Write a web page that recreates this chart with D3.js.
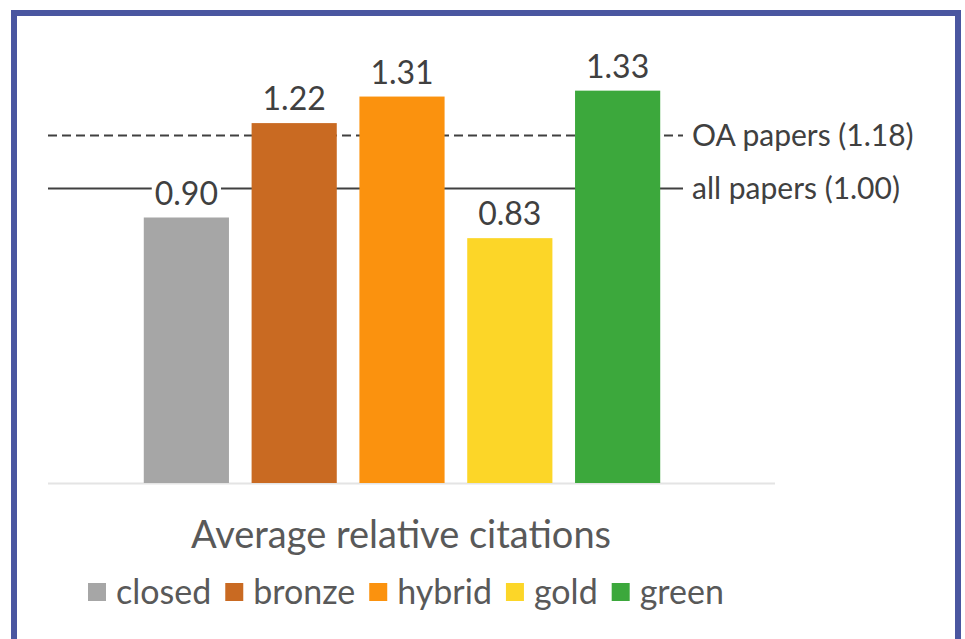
<!DOCTYPE html>
<html>
<head>
<meta charset="utf-8">
<script src="https://cdn.jsdelivr.net/npm/d3@7"></script>
<style>
  html, body { margin: 0; padding: 0; background: #fff; }
  svg { display: block; }
  text { font-family: Lato, "Open Sans", sans-serif; }
</style>
</head>
<body>
<script>
// Average relative citations by access type
const categories = ["closed", "bronze", "hybrid", "gold", "green"];
const values = [0.90, 1.22, 1.31, 0.83, 1.33];
const colors = ["#a6a6a6", "#c96a22", "#fb920e", "#fcd628", "#3ca83c"];
const refLines = [
  { label: "OA papers (1.18)", value: 1.18, dashed: true },
  { label: "all papers (1.00)", value: 1.00, dashed: false }
];
const title = "Average relative citations";

const W = 965, H = 639;
const svg = d3.select("body").append("svg").attr("width", W).attr("height", H);

// frame
svg.append("path")
  .attr("d", `M14,${H} V13 H958 V${H}`)
  .attr("fill", "none").attr("stroke", "#4a56a0").attr("stroke-width", 6);

const baseY = 483;
const y = d3.scaleLinear().domain([0, 1]).range([baseY, baseY - 295]);
const x = d3.scaleBand().domain(categories).range([133, 671]).paddingInner(0.21).paddingOuter(0.1);

// baseline
svg.append("line")
  .attr("x1", 48).attr("x2", 775).attr("y1", baseY + 0.5).attr("y2", baseY + 0.5)
  .attr("stroke", "#e4e4e4").attr("stroke-width", 2);

// reference lines
const refG = svg.append("g");
refLines.forEach(r => {
  const yy = Math.round(y(r.value)) + 0.5;
  refG.append("line")
    .attr("x1", 48).attr("x2", 683).attr("y1", yy).attr("y2", yy)
    .attr("stroke", "#404040").attr("stroke-width", 1.8)
    .attr("stroke-dasharray", r.dashed ? "9,5" : null);
  refG.append("text")
    .attr("x", 692).attr("y", yy).attr("dy", "0.35em")
    .attr("font-size", 30).attr("fill", "#404040")
    .text(r.label);
});

// bars
svg.append("g").selectAll("rect").data(categories).join("rect")
  .attr("x", d => x(d))
  .attr("width", x.bandwidth())
  .attr("y", (d, i) => y(values[i]))
  .attr("height", (d, i) => baseY - y(values[i]))
  .attr("fill", (d, i) => colors[i]);

// value labels (white halo breaks the reference line behind them)
const lbl = svg.append("g").selectAll("g").data(categories).join("g");
lbl.each(function(d, i) {
  const g = d3.select(this);
  const cx = x(d) + x.bandwidth() / 2;
  const ty = y(values[i]) - 13;
  const t = g.append("text")
    .attr("x", cx).attr("y", ty).attr("text-anchor", "middle")
    .attr("font-size", 32).attr("fill", "#404040")
    .text(values[i].toFixed(2));
  const bb = t.node().getBBox();
  g.insert("rect", "text")
    .attr("x", bb.x - 3).attr("y", bb.y + 4).attr("width", bb.width + 6).attr("height", bb.height - 8)
    .attr("fill", "#fff");
});

// title
svg.append("text")
  .attr("x", 401).attr("y", 548).attr("text-anchor", "middle")
  .attr("font-size", 38).attr("fill", "#595959")
  .text(title);

// legend: swatch + label, laid out left to right
const leg = svg.append("g").attr("transform", "translate(88,583)");
let cursor = 0;
categories.forEach((c, i) => {
  const item = leg.append("g").attr("transform", `translate(${cursor},0)`);
  item.append("rect").attr("width", 18).attr("height", 18).attr("fill", colors[i]);
  const t = item.append("text").attr("x", 28).attr("y", 9).attr("dy", "0.35em")
    .attr("font-size", 34).attr("fill", "#595959").text(c);
  cursor += 28 + t.node().getComputedTextLength() + 14;
});
</script>
</body>
</html>
